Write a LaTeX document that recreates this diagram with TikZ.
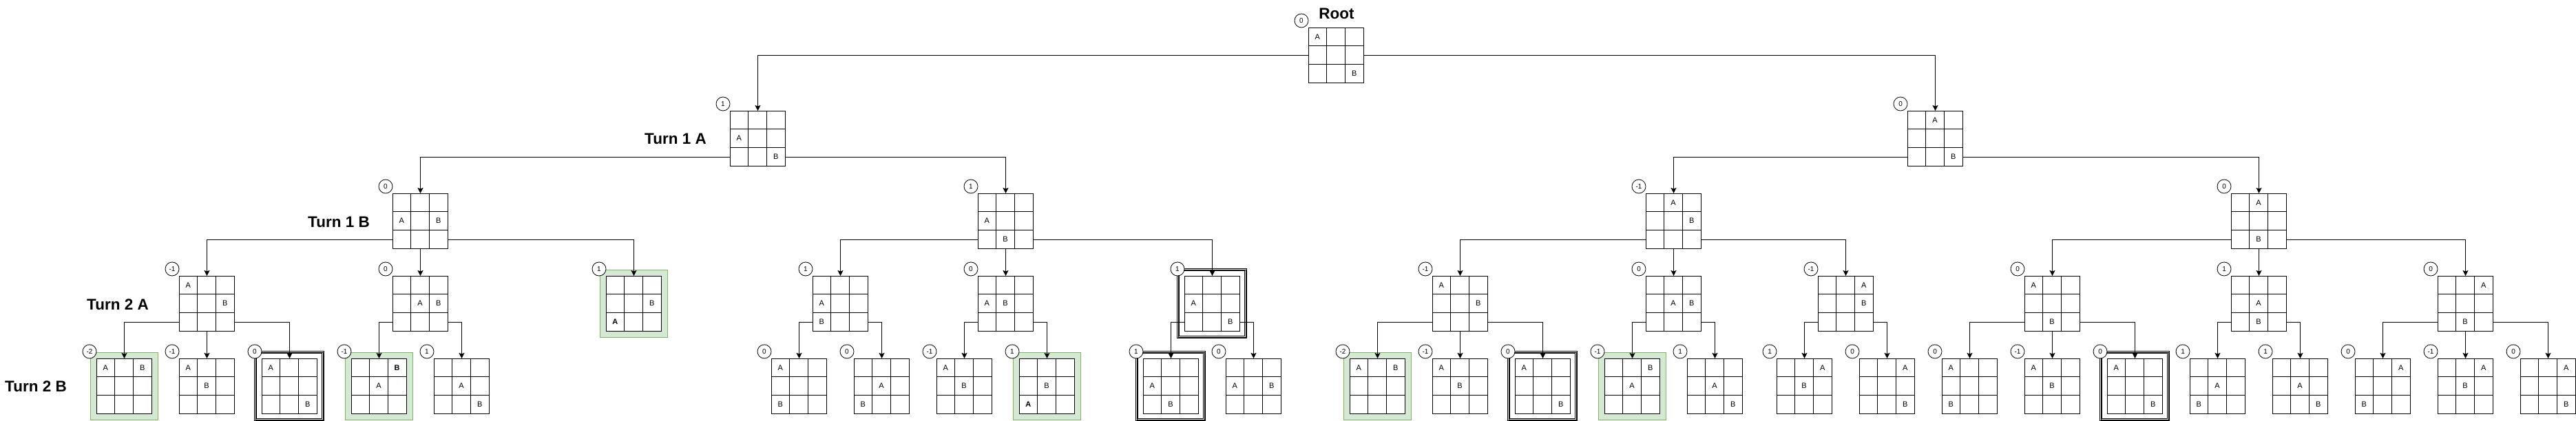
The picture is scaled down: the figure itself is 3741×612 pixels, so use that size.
\documentclass[tikz,border=0pt]{standalone}
\usepackage{fontspec}
\setmainfont{Liberation Sans}
\usepackage{tikz}
\usetikzlibrary{arrows.meta, positioning}
\tikzset{>=stealth}
\definecolor{wingreen}{HTML}{D5E8D4}
\definecolor{winedge}{HTML}{82B366}

\tikzset{
  board/.style={draw, fill=white, line width=1pt, minimum size=80pt, inner sep=0pt, anchor=north west},
  cellline/.style={line width=1pt},
  piece/.style={inner sep=0pt, font=\fontsize{11}{13}\selectfont},
  score/.style={draw, circle, fill=white, line width=0.8pt, minimum size=20pt, inner sep=0pt, font=\fontsize{10}{12}\selectfont},
  won/.style={draw=winedge, fill=wingreen, line width=1pt},
  tripled/.style={draw=black, line width=3.4pt, postaction={draw=white, line width=2pt}, postaction={draw=black, line width=0.7pt}},
  link/.style={-{Stealth[length=8pt, width=8pt, inset=1.5pt]}, line width=1pt},
  level/.style={font=\fontsize{22.5}{26}\selectfont\bfseries, inner sep=0pt}
}

% \board[frame]{name}{x,y}{score}{row/col/text,...}
\newcommand{\board}[5][]{%
  \begin{scope}[shift={(#3)}]
    \path[#1] (-9,-9) rectangle (89,89);
    \node[board] (#2) at (0,0) {};
    \draw[cellline] (80/3,0) -- (80/3,80) (160/3,0) -- (160/3,80)
      (0,80/3) -- (80,80/3) (0,160/3) -- (80,160/3);
    \foreach \row/\col/\txt in {#5}
      \node[piece] (#2-\row\col) at ({40/3+80/3*\col},{40/3+80/3*\row}) {\txt};
    \node[score] (#2-score) at (-10,-10) {#4};
  \end{scope}}

\begin{document}
\begin{tikzpicture}[x=1pt, y=-1pt]
\path[fill=white, use as bounding box] (0,0) rectangle (3741,612);

% level names
\node[level, anchor=base] (lroot) at (1941,28) {Root};
\node[level, anchor=base] (lt1a) at (981,210) {Turn 1 A};
\node[level, anchor=base] (lt1b) at (492,330) {Turn 1 B};
\node[level, anchor=base] (lt2a) at (171,450) {Turn 2 A};
\node[level, anchor=base] (lt2b) at (52,569) {Turn 2 B};

% root and turn 1
\board{root}{1900,40}{0}{0/0/A, 2/2/B}
\board{ta}{1060,161}{1}{1/0/A, 2/2/B}
\board{tb}{2770,161}{0}{0/1/A, 2/2/B}

% turn 1 B
\board{taa}{570,281}{0}{1/0/A, 1/2/B}
\board{tab}{1420,281}{1}{1/0/A, 2/1/B}
\board{tba}{2390,281}{-1}{0/1/A, 1/2/B}
\board{tbb}{3240,281}{0}{0/1/A, 2/1/B}

% turn 2 A
\board{taaa}{260,401}{-1}{0/0/A, 1/2/B}
\board{taab}{570,401}{0}{1/1/A, 1/2/B}
\board[won]{taac}{880,401}{1}{1/2/B, 2/0/\textbf{A}}
\board{taba}{1180,401}{1}{1/0/A, 2/0/B}
\board{tabb}{1420,401}{0}{1/0/A, 1/1/B}
\board[tripled]{tabc}{1720,401}{1}{1/0/A, 2/2/B}
\board{tbaa}{2080,401}{-1}{0/0/A, 1/2/B}
\board{tbab}{2390,401}{0}{1/1/A, 1/2/B}
\board{tbac}{2640,401}{-1}{0/2/A, 1/2/B}
\board{tbba}{2940,401}{0}{0/0/A, 2/1/B}
\board{tbbb}{3240,401}{1}{1/1/A, 2/1/B}
\board{tbbc}{3540,401}{0}{0/2/A, 2/1/B}

% turn 2 B
\board[won]{taaaa}{140,521}{-2}{0/0/A, 0/2/B}
\board{taaab}{260,521}{-1}{0/0/A, 1/1/B}
\board[tripled]{taaac}{380,521}{0}{0/0/A, 2/2/B}
\board[won]{taaba}{510,521}{-1}{0/2/\textbf{B}, 1/1/A}
\board{taabb}{630,521}{1}{1/1/A, 2/2/B}
\board{tabaa}{1120,521}{0}{0/0/A, 2/0/B}
\board{tabab}{1240,521}{0}{1/1/A, 2/0/B}
\board{tabba}{1360,521}{-1}{0/0/A, 1/1/B}
\board[won]{tabbb}{1480,521}{1}{1/1/B, 2/0/\textbf{A}}
\board[tripled]{tabca}{1660,521}{1}{1/0/A, 2/1/B}
\board{tabcb}{1780,521}{0}{1/0/A, 1/2/B}
\board[won]{tbaaa}{1960,521}{-2}{0/0/A, 0/2/B}
\board{tbaab}{2080,521}{-1}{0/0/A, 1/1/B}
\board[tripled]{tbaac}{2200,521}{0}{0/0/A, 2/2/B}
\board[won]{tbaba}{2330,521}{-1}{0/2/B, 1/1/A}
\board{tbabb}{2450,521}{1}{1/1/A, 2/2/B}
\board{tbaca}{2580,521}{1}{0/2/A, 1/1/B}
\board{tbacb}{2700,521}{0}{0/2/A, 2/2/B}
\board{tbbaa}{2820,521}{0}{0/0/A, 2/0/B}
\board{tbbab}{2940,521}{-1}{0/0/A, 1/1/B}
\board[tripled]{tbbac}{3060,521}{0}{0/0/A, 2/2/B}
\board{tbbba}{3180,521}{1}{1/1/A, 2/0/B}
\board{tbbbb}{3300,521}{1}{1/1/A, 2/2/B}
\board{tbbca}{3420,521}{0}{0/2/A, 2/0/B}
\board{tbbcb}{3540,521}{-1}{0/2/A, 1/1/B}
\board{tbbcc}{3660,521}{0}{0/2/A, 2/2/B}

% moves
\draw[link] (root.west) -| (ta.north);
\draw[link] (root.east) -| (tb.north);
\foreach \p/\c in {ta/taa, tb/tba, taa/taaa, tab/taba, tba/tbaa, tbb/tbba,
  taaa/taaaa, taab/taaba, taba/tabaa, tabb/tabba, tabc/tabca, tbaa/tbaaa,
  tbab/tbaba, tbac/tbaca, tbba/tbbaa, tbbb/tbbba, tbbc/tbbca}
  \draw[link] ([yshift=40/3*1pt]\p.south west) -| (\c.north);
\foreach \p/\c in {ta/tab, tb/tbb, taa/taac, tab/tabc, tba/tbac, tbb/tbbc,
  taaa/taaac, taab/taabb, taba/tabab, tabb/tabbb, tabc/tabcb, tbaa/tbaac,
  tbab/tbabb, tbac/tbacb, tbba/tbbac, tbbb/tbbbb, tbbc/tbbcc}
  \draw[link] ([yshift=40/3*1pt]\p.south east) -| (\c.north);
\foreach \p/\c in {taa/taab, tab/tabb, tba/tbab, tbb/tbbb,
  taaa/taaab, tbaa/tbaab, tbba/tbbab, tbbc/tbbcb}
  \draw[link] (\p.south) -- (\c.north);
\end{tikzpicture}
\end{document}
